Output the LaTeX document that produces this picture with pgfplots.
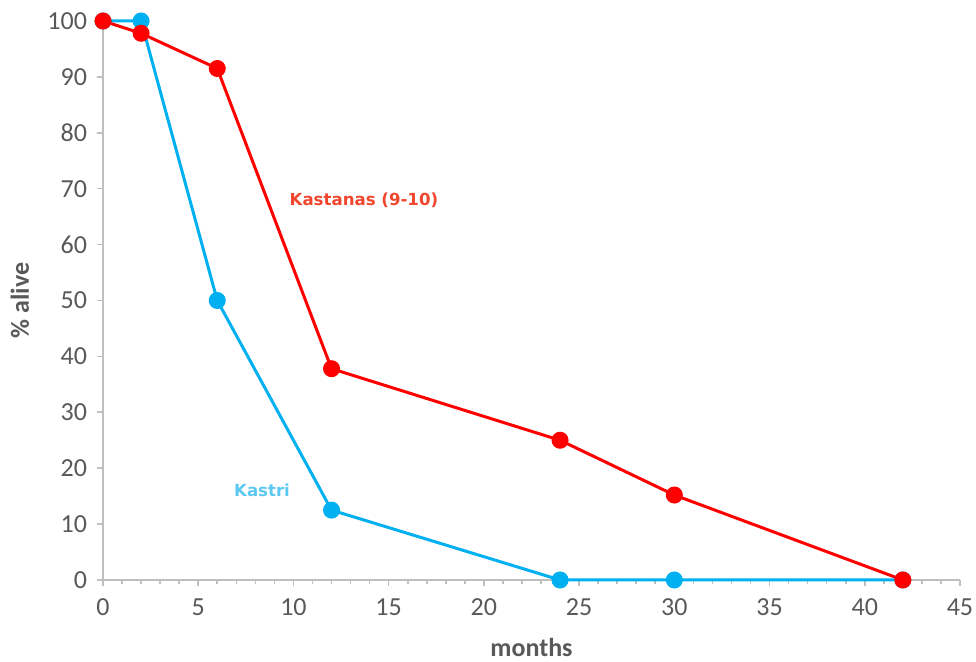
\documentclass[border=0pt]{standalone}
\usepackage{pgfplots}
\pgfplotsset{compat=1.18}
\usepackage{fontspec}
\setmainfont{Carlito}
\newfontfamily\verd{DejaVu Sans}
\definecolor{redl}{HTML}{FF0000}
\definecolor{bluel}{HTML}{00B0F0}
\definecolor{redt}{HTML}{F0462D}
\definecolor{bluet}{HTML}{5CC8F0}
\definecolor{axg}{HTML}{BFBFBF}
\definecolor{txt}{HTML}{595959}
\begin{document}
\begin{tikzpicture}
\useasboundingbox (-51.5pt,-41pt) rectangle (436.5pt,290pt);
\begin{axis}[
  scale only axis,
  width=428.5pt, height=279.5pt,
  xmin=0, xmax=45, ymin=0, ymax=100,
  axis lines=left,
  axis line style={axg, line width=0.9pt, -},
  xtick={0,5,...,45}, ytick={0,10,...,100},
  minor xtick={0,1,...,45},
  tick align=outside,
  major tick length=3pt, minor tick length=2pt,
  tick style={axg, line width=0.8pt},
  every tick label/.append style={font=\fontsize{13}{15}\selectfont, text=txt},
  /pgf/number format/assume math mode=true,
  xticklabel style={yshift=-3pt},
  yticklabel style={xshift=-1.5pt},
  xlabel={\bfseries months}, ylabel={\bfseries \% alive},
  label style={font=\fontsize{13}{15}\selectfont, text=txt},
  xlabel style={at={(axis description cs:0.5,-0.1216)}, anchor=center},
  ylabel style={at={(axis description cs:-0.0969,0.5)}, anchor=center},
  clip=false,
]
\addplot[bluel, line width=1.5pt, mark=*, mark size=3.5pt, mark options={fill=bluel, draw=bluel}]
  coordinates {(0,100)(2,100)(6,50)(12,12.5)(24,0)(30,0)(42,0)};
\addplot[redl, line width=1.5pt, mark=*, mark size=3.5pt, mark options={fill=redl, draw=redl}]
  coordinates {(0,100)(2,97.8)(6,91.5)(12,37.8)(24,25)(30,15.2)(42,0)};
\node[text=redt, font=\verd\bfseries\fontsize{8.3}{10}\selectfont] at (axis cs:13.7,68) {Kastanas (9-10)};
\node[text=bluet, font=\verd\bfseries\fontsize{8.3}{10}\selectfont] at (axis cs:8.35,16.1) {Kastri};
\end{axis}
\end{tikzpicture}
\end{document}
